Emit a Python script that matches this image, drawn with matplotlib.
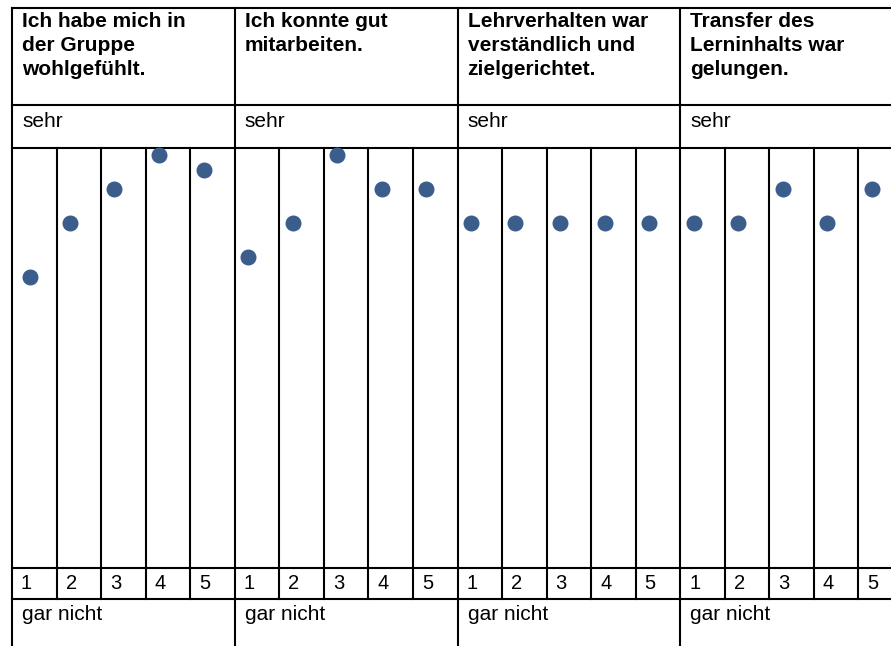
import matplotlib

matplotlib.use("Agg")
import matplotlib.pyplot as plt
import numpy as np

# survey items (one block per question)
questions = [
    "Ich habe mich in\nder Gruppe\nwohlgefühlt.",
    "Ich konnte gut\nmitarbeiten.",
    "Lehrverhalten war\nverständlich und\nzielgerichtet.",
    "Transfer des\nLerninhalts war\ngelungen.",
]
top_label = "sehr"
bottom_label = "gar nicht"
col_labels = ["1", "2", "3", "4", "5"]

# values (1 = top / "sehr")
q1_values = [4.6, 3.0, 2.0, 1.0, 1.45]
q2_values = [4.0, 3.0, 1.0, 2.0, 2.0]
q3_values = [3.0, 3.0, 3.0, 3.0, 3.0]
q4_values = [3.0, 3.0, 2.0, 3.0, 2.0]

W, H = 891, 646
LEFT, RIGHT = 12, 903
Y_TOP, Y_HEAD, Y_SEHR, Y_NUM, Y_NUM_BOT = 8, 104.7, 148, 568, 599
LW = 1.5
FONT = "Liberation Sans"
DOT_COLOR = "#3a5d8c"

fig = plt.figure(figsize=(W / 100, H / 100), dpi=100)

# background axes in pixel units for the table grid and text
bg = fig.add_axes([0, 0, 1, 1])
bg.set_xlim(0, W)
bg.set_ylim(H, 0)
bg.axis("off")

n_groups = len(questions)
n_cols = n_groups * len(col_labels)
col_w = (RIGHT - LEFT) / n_cols
group_w = col_w * len(col_labels)

# horizontal rules
for y in [Y_TOP, Y_HEAD, Y_SEHR, Y_NUM, Y_NUM_BOT]:
    bg.plot([LEFT, RIGHT], [y, y], color="black", lw=LW, solid_capstyle="projecting")

# vertical rules
for i in range(n_cols + 1):
    x = LEFT + i * col_w
    if i % len(col_labels) == 0:
        bg.plot([x, x], [Y_TOP, H], color="black", lw=LW)
    else:
        bg.plot([x, x], [Y_SEHR, Y_NUM_BOT], color="black", lw=LW)

for g, q in enumerate(questions):
    gx = LEFT + g * group_w
    bg.text(gx + 10, Y_TOP + 4, q, fontsize=15, fontweight="bold", family=FONT,
            va="top", ha="left", linespacing=1.33)
    bg.text(gx + 10, 127, top_label, fontsize=15, family=FONT, va="baseline", ha="left")
    bg.text(gx + 10, 620, bottom_label, fontsize=15, family=FONT, va="baseline", ha="left")
    for j, lab in enumerate(col_labels):
        bg.text(gx + j * col_w + 9, 589, lab, fontsize=14.5, family=FONT,
                va="baseline", ha="left")

# dots in the plot band
ax = fig.add_axes([LEFT / W, 1 - Y_NUM / H, (RIGHT - LEFT) / W, (Y_NUM - Y_SEHR) / H])
ax.set_xlim(0, n_cols)
ax.set_ylim(13.15, 0.794)
ax.axis("off")

values = np.concatenate([q1_values, q2_values, q3_values, q4_values])
xs = np.arange(n_cols) + 0.3
xs[0] += 0.1  # first dot sits a little further from the left border
ax.plot(xs, values, "o", color=DOT_COLOR, markersize=10.5, clip_on=False)

fig.savefig("out.png", dpi=100)
plt.close(fig)
